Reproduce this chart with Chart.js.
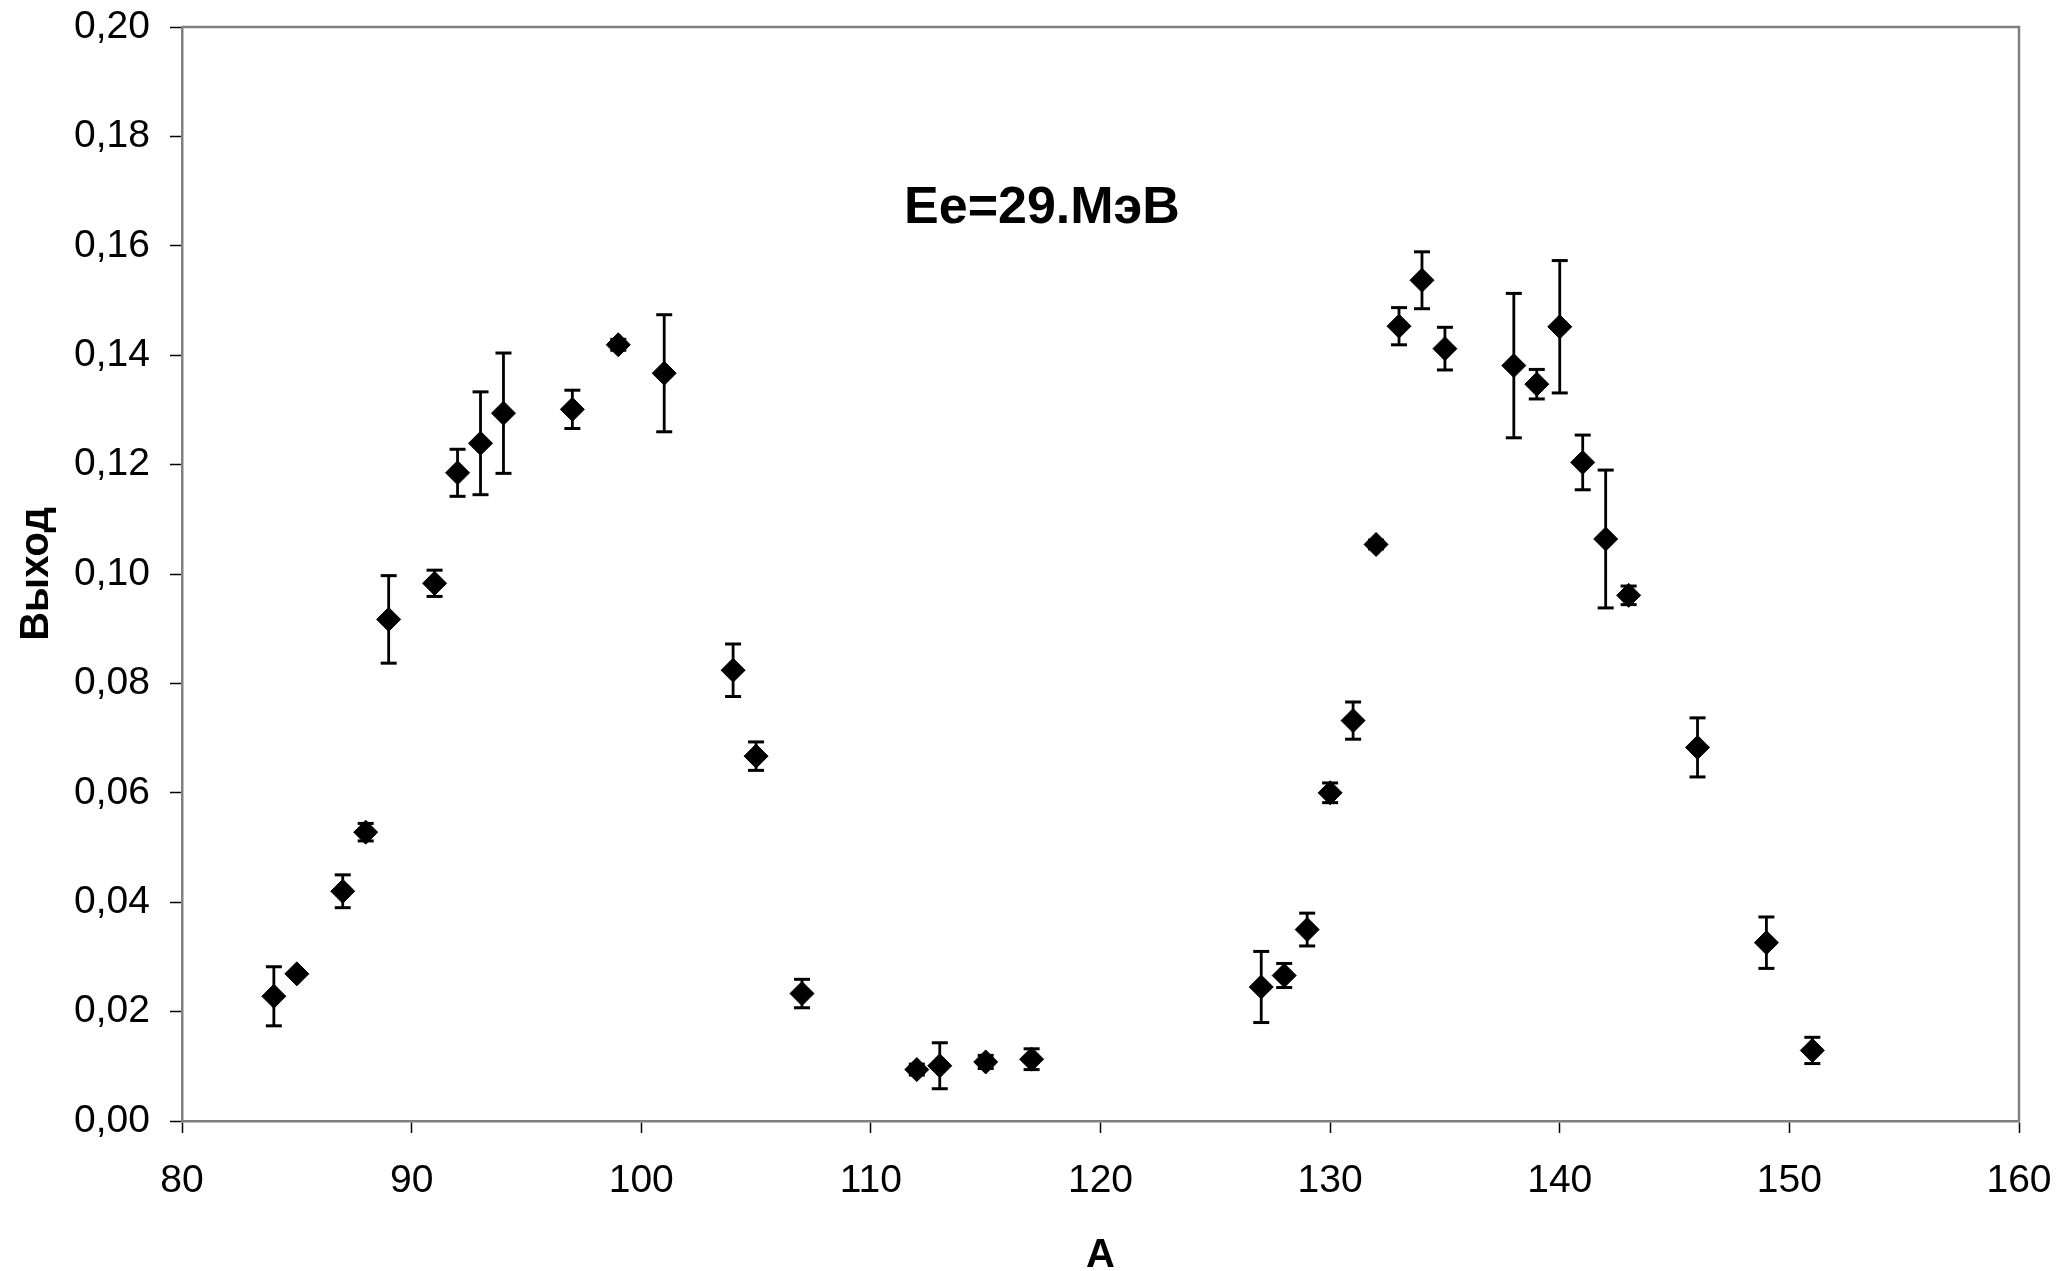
<!DOCTYPE html>
<html>
<head>
<meta charset="utf-8">
<script src="https://cdn.jsdelivr.net/npm/chart.js@4/dist/chart.umd.min.js"></script>
<style>
  html, body { margin: 0; padding: 0; background: #ffffff; overflow: hidden; }
  canvas { display: block; }
</style>
</head>
<body>
<canvas id="chart" width="2060" height="1271"></canvas>
<script>
// Mass number A of each fragment
const massNumbers = [84, 85, 87, 88, 89, 91, 92, 93, 94, 97, 99, 101, 104, 105, 107,
  112, 113, 115, 117, 127, 128, 129, 130, 131, 132, 133, 134, 135, 138, 139, 140,
  141, 142, 143, 146, 149, 151];

// Measured yield for each A
const yields = [0.0228, 0.0269, 0.0420, 0.0528, 0.0917, 0.0983, 0.1185, 0.1239, 0.1294,
  0.1301, 0.1419, 0.1367, 0.0824, 0.0667, 0.0233, 0.0094, 0.0101, 0.0108, 0.0113,
  0.0245, 0.0266, 0.0350, 0.0600, 0.0732, 0.1054, 0.1453, 0.1537, 0.1412, 0.1381,
  0.1347, 0.1452, 0.1204, 0.1064, 0.0961, 0.0683, 0.0326, 0.0129];

// Uncertainty (half-width of the error bar) of each yield
const yieldErrors = [0.0054, 0.0003, 0.0030, 0.0016, 0.0080, 0.0024, 0.0043, 0.0094, 0.0110,
  0.0035, 0.0010, 0.0107, 0.0048, 0.0026, 0.0026, 0.0010, 0.0042, 0.0012, 0.0019,
  0.0065, 0.0022, 0.0030, 0.0018, 0.0034, 0.0008, 0.0034, 0.0052, 0.0039, 0.0132,
  0.0027, 0.0121, 0.0050, 0.0126, 0.0017, 0.0054, 0.0047, 0.0024];

// Axis ranges and tick steps
const xRange = [80, 160];
const xStep = 10;
const yRange = [0, 0.20];
const yStep = 0.02;

// Texts
const xTitle = 'A';
const yTitle = 'Выход';
const energyLabel = 'Ee=29.МэВ';
const energyLabelAt = { x: 117.45, y: 0.1667 };

const FONT = '"Liberation Sans", Arial, Helvetica, sans-serif';

const points = massNumbers.map((a, i) => ({ x: a, y: yields[i] }));
const stems = [];
const caps = [];
massNumbers.forEach((a, i) => {
  const lo = yields[i] - yieldErrors[i];
  const hi = yields[i] + yieldErrors[i];
  stems.push({ x: a, y: lo }, { x: a, y: hi }, { x: a, y: null });
  caps.push({ x: a, y: lo }, { x: a, y: hi });
});

// Gray frame on the top and right edges of the plot area
const framePlugin = {
  id: 'frame',
  beforeDatasetsDraw(chart) {
    const { ctx, chartArea: { left, right, top, bottom } } = chart;
    ctx.save();
    ctx.strokeStyle = '#808080';
    ctx.lineWidth = 2.5;
    ctx.beginPath();
    ctx.moveTo(left, top);
    ctx.lineTo(right, top);
    ctx.lineTo(right, bottom);
    ctx.stroke();
    ctx.restore();
  }
};

// Beam energy label inside the plot
const energyLabelPlugin = {
  id: 'energyLabel',
  afterDatasetsDraw(chart) {
    const { ctx, scales: { x, y } } = chart;
    ctx.save();
    ctx.font = 'bold 52px ' + FONT;
    ctx.fillStyle = '#000';
    ctx.textAlign = 'center';
    ctx.textBaseline = 'middle';
    ctx.fillText(energyLabel, x.getPixelForValue(energyLabelAt.x), y.getPixelForValue(energyLabelAt.y));
    ctx.restore();
  }
};

new Chart(document.getElementById('chart'), {
  type: 'scatter',
  data: {
    datasets: [
      {
        label: 'yield',
        data: points,
        pointStyle: 'rectRot',
        pointRadius: 12,
        pointBackgroundColor: '#000',
        pointBorderColor: '#000',
        pointBorderWidth: 1
      },
      {
        label: 'caps',
        data: caps,
        pointStyle: 'line',
        pointRadius: 8,
        pointBorderColor: '#000',
        pointBorderWidth: 3
      },
      {
        label: 'stems',
        data: stems,
        showLine: true,
        spanGaps: false,
        borderColor: '#000',
        borderWidth: 2.8,
        pointRadius: 0
      }
    ]
  },
  options: {
    responsive: false,
    animation: false,
    events: [],
    layout: { padding: { top: 27, right: 41, left: 0, bottom: 0 } },
    plugins: {
      legend: { display: false },
      tooltip: { enabled: false }
    },
    scales: {
      x: {
        type: 'linear',
        min: xRange[0],
        max: xRange[1],
        afterFit(scale) {
          scale.height = 150;
          scale.paddingLeft = 0;
          scale.paddingRight = 0;
        },
        ticks: {
          stepSize: xStep,
          color: '#000',
          padding: 25,
          font: { family: FONT, size: 39 },
          maxRotation: 0
        },
        grid: {
          drawOnChartArea: false,
          drawTicks: true,
          tickLength: 12,
          tickColor: '#000',
          tickWidth: 1.5
        },
        border: { display: true, color: '#808080', width: 2.5 },
        title: {
          display: true,
          text: xTitle,
          color: '#000',
          font: { family: FONT, size: 40, weight: 'bold', lineHeight: 0.75 },
          padding: { top: 0, bottom: 0 }
        }
      },
      y: {
        type: 'linear',
        min: yRange[0],
        max: yRange[1],
        afterFit(scale) {
          scale.width = 182;
          scale.paddingTop = 0;
          scale.paddingBottom = 0;
        },
        ticks: {
          stepSize: yStep,
          color: '#000',
          padding: 20,
          font: { family: FONT, size: 39 },
          callback: (v) => v.toFixed(2).replace('.', ',')
        },
        grid: {
          drawOnChartArea: false,
          drawTicks: true,
          tickLength: 12,
          tickColor: '#000',
          tickWidth: 1.5
        },
        border: { display: true, color: '#808080', width: 2.5 },
        title: {
          display: true,
          text: yTitle,
          color: '#000',
          font: { family: FONT, size: 40, weight: 'bold', lineHeight: 1.2 },
          padding: { top: 13, bottom: 0 }
        }
      }
    }
  },
  plugins: [framePlugin, energyLabelPlugin]
});
</script>
</body>
</html>
